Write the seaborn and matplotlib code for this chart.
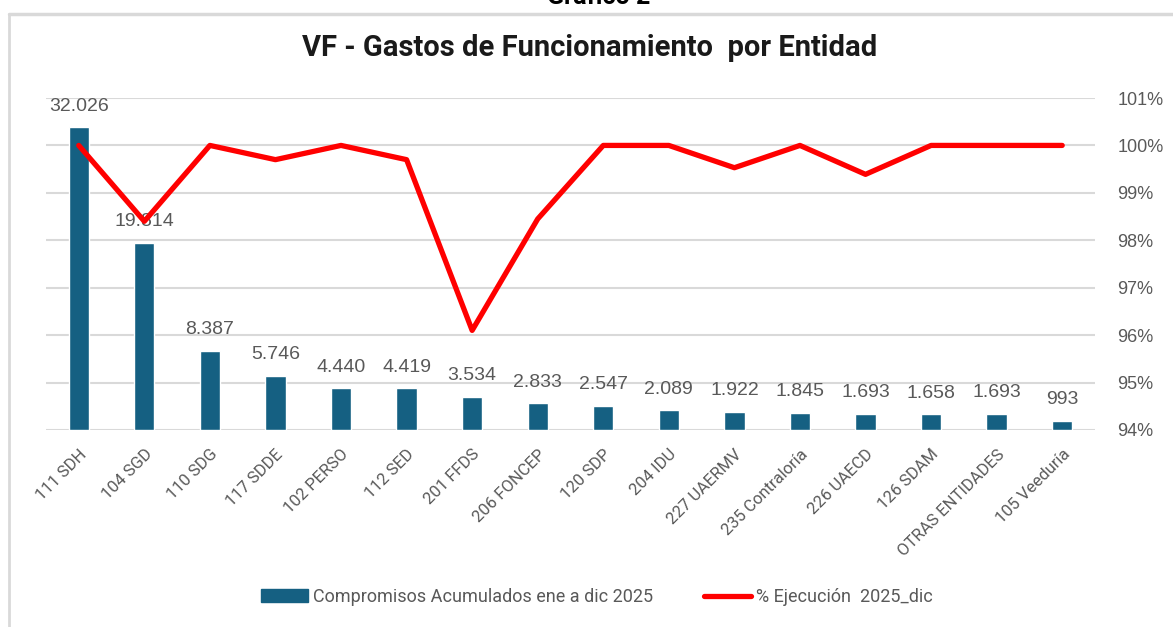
import numpy as np
import pandas as pd
import seaborn as sns
import matplotlib.pyplot as plt
from matplotlib.lines import Line2D
from matplotlib.patches import Patch
from matplotlib.ticker import PercentFormatter

# datos del grafico
entidades = ['111 SDH', '104 SGD', '110 SDG', '117 SDDE', '102 PERSO', '112 SED',
             '201 FFDS', '206 FONCEP', '120 SDP', '204 IDU', '227 UAERMV',
             '235 Contraloría', '226 UAECD', '126 SDAM', 'OTRAS ENTIDADES', '105 Veeduría']
compromisos = [32026, 19814, 8387, 5746, 4440, 4419, 3534, 2833, 2547, 2089, 1922,
               1845, 1693, 1658, 1693, 993]
ejecucion = [1.000, 0.984, 1.000, 0.997, 1.000, 0.997, 0.961, 0.9845, 1.000, 1.000,
             0.9953, 1.000, 0.9939, 1.000, 1.000, 1.000]
pct_ticks = [0.94, 0.95, 0.96, 0.97, 0.98, 0.99, 1.00, 1.01]

df = pd.DataFrame({'entidad': entidades, 'compromisos': compromisos, 'ejecucion': ejecucion})

sns.set_style('white')
narrow = ['Roboto', 'DejaVu Sans']
wide = ['Liberation Sans', 'DejaVu Sans']
plt.rcParams['font.family'] = narrow

gris = '#595959'
azul = '#156082'
rojo = '#FF0000'

fig = plt.figure(figsize=(11.73, 6.27), dpi=100)
ax = fig.add_axes([0.0392, 0.3142, 0.8943, 0.5295])

# eje de porcentaje con la rejilla (al fondo)
ax.set_ylim(0.94, 1.01)
ax.set_yticks(pct_ticks)
ax.yaxis.set_major_formatter(PercentFormatter(1.0, decimals=0))
ax.grid(axis='y', color='#d9d9d9', linewidth=1.5)
for s in ax.spines.values():
    s.set_visible(False)

# barras
axb = ax.twinx()
sns.barplot(data=df, x='entidad', y='compromisos', color=azul, width=0.31,
            saturation=1, ax=axb)
axb.set_ylim(0, 35100)
axb.set_yticks([])
axb.set_ylabel('')
labels = [f'{v:,}'.replace(',', '.') for v in compromisos]
axb.bar_label(axb.containers[0], labels=labels, padding=9, fontsize=14,
              color=gris, family=wide)
for s in axb.spines.values():
    s.set_visible(False)

# linea de ejecucion
axl = ax.twinx()
sns.lineplot(data=df, x=df.index, y='ejecucion', color=rojo, linewidth=3.8, ax=axl,
             solid_capstyle='round')
axl.set_ylim(0.94, 1.01)
axl.set_yticks([])
axl.set_ylabel('')
for s in axl.spines.values():
    s.set_visible(False)

# ticks del porcentaje a la derecha (twinx los pasa a la izquierda)
ax.yaxis.tick_right()
ax.tick_params(axis='y', length=0, pad=16, labelsize=13, labelcolor=gris)
for t in ax.get_yticklabels():
    t.set_family(wide)

ax.set_xlim(-0.5, len(entidades) - 0.5)
ax.set_xticks(range(len(entidades)))
ax.set_xticklabels(entidades, rotation=45, ha='right', rotation_mode='anchor',
                   fontsize=12, color=gris)
ax.tick_params(axis='x', length=0, pad=12)
ax.set_xlabel('')

fig.text(0.503, 1 - 48 / 627, 'VF - Gastos de Funcionamiento  por Entidad',
         ha='center', va='center', fontsize=21, fontweight='bold', color='#1a1a1a')
fig.text(0.51, 1 + 3 / 627, 'Gráfico 2', ha='center', va='center', fontsize=18,
         fontweight='bold', color='black')

# marco del grafico
fig.add_artist(Line2D([9 / 1173, 1], [1 - 14 / 627, 1 - 14 / 627], color='#d9d9d9',
                      linewidth=2.5, transform=fig.transFigure))
fig.add_artist(Line2D([9 / 1173, 9 / 1173], [0, 1 - 14 / 627], color='#d9d9d9',
                      linewidth=2, transform=fig.transFigure))

handles = [Patch(color=azul, label='Compromisos Acumulados ene a dic 2025'),
           Line2D([0], [0], color=rojo, linewidth=3.8, label='% Ejecución  2025_dic',
                  solid_capstyle='round')]
fig.legend(handles=handles, loc='center', bbox_to_anchor=(0.509, 1 - 597 / 627), ncol=2,
           frameon=False, fontsize=13, labelcolor=gris, handlelength=2.6,
           columnspacing=2.8, handletextpad=0.3)

fig.savefig('out.png', dpi=100)
